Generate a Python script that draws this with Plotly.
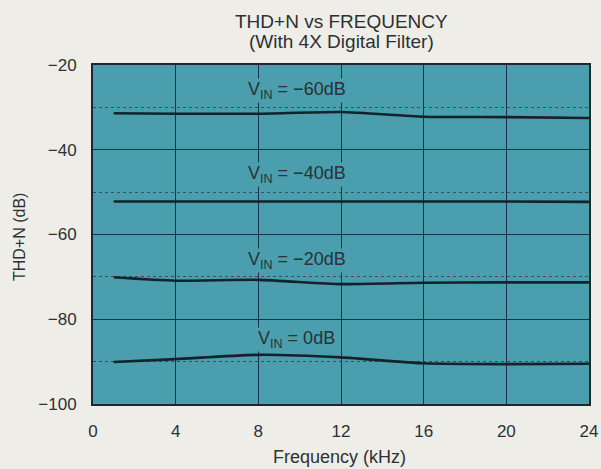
import plotly.graph_objects as go

freq = [1, 4, 8, 12, 16, 20, 24]
vin_m60 = [-31.4, -31.5, -31.5, -31.1, -32.2, -32.3, -32.5]
vin_m40 = [-52.2, -52.2, -52.2, -52.2, -52.2, -52.2, -52.3]
vin_m20 = [-70.1, -70.9, -70.7, -71.7, -71.4, -71.3, -71.3]
vin_0 = [-90.1, -89.4, -88.4, -89.0, -90.4, -90.6, -90.5]

series = [
    ("V<sub>IN</sub> = \u221260dB", vin_m60, -26.0),
    ("V<sub>IN</sub> = \u221240dB", vin_m40, -45.9),
    ("V<sub>IN</sub> = \u221220dB", vin_m20, -66.2),
    ("V<sub>IN</sub> = 0dB", vin_0, -84.7),
]

x_ticks = [0, 4, 8, 12, 16, 20, 24]
y_ticks = [-20, -40, -60, -80, -100]

teal = "#4a9eae"
grid = "#173540"
ink = "#2b3135"
paper = "#efede8"
font = "Liberation Sans, Arial, sans-serif"

fig = go.Figure()
for name, ys, ly in series:
    fig.add_trace(go.Scatter(x=freq, y=ys, mode="lines",
                             line=dict(color="#13222b", width=2.6, shape="spline", smoothing=0.6),
                             showlegend=False, hoverinfo="skip"))
    fig.add_annotation(x=9.85, y=ly, text=name, showarrow=False,
                       font=dict(family=font, size=18, color=ink),
                       bgcolor=teal, borderpad=0)

fig.add_annotation(xref="paper", yref="paper", x=0.5, y=(404 - 21.5) / 339, yanchor="middle",
                   text="THD+N vs FREQUENCY", showarrow=False,
                   font=dict(family=font, size=19, color=ink))
fig.add_annotation(xref="paper", yref="paper", x=0.5, y=(404 - 41.5) / 339, yanchor="middle",
                   text="(With 4X Digital Filter)", showarrow=False,
                   font=dict(family=font, size=19, color=ink))
fig.add_annotation(xref="paper", yref="paper", x=(19 - 93) / 496, y=(404 - 237) / 339,
                   xanchor="center", yanchor="middle",
                   text="THD+N (dB)", textangle=-90, showarrow=False,
                   font=dict(family=font, size=16, color=ink))
fig.add_annotation(xref="paper", yref="paper", x=(339 - 93) / 496, y=(404 - 457) / 339,
                   xanchor="center", yanchor="middle",
                   text="Frequency (kHz)", showarrow=False,
                   font=dict(family=font, size=18, color=ink))

fig.update_layout(
    width=601, height=469,
    margin=dict(l=93, r=12, t=65, b=65, pad=0),
    paper_bgcolor=paper, plot_bgcolor=teal,
    font=dict(family=font, size=17, color=ink),
)
fig.update_xaxes(range=[0, 24], tickvals=x_ticks, ticktext=[str(v) for v in x_ticks],
                 automargin=False,
                 showgrid=True, gridcolor=grid, gridwidth=1.3, zeroline=False,
                 showline=True, linecolor="#1c2a30", linewidth=2, mirror=True,
                 ticks="", ticklabelstandoff=11)
fig.update_yaxes(range=[-100, -20], tickvals=y_ticks,
                 ticktext=["\u2212" + str(-v) for v in y_ticks],
                 automargin=False,
                 showgrid=True, gridcolor=grid, gridwidth=1.3, zeroline=False,
                 showline=True, linecolor="#1c2a30", linewidth=2, mirror=True,
                 ticks="", ticklabelstandoff=11,
                 minor=dict(dtick=10, tick0=-100, showgrid=True, gridcolor="#2a5560",
                            gridwidth=0.8, griddash="dot"))

fig.write_html("out.html", config={"displayModeBar": False},
               post_script="document.body.style.margin='0';document.body.style.overflow='hidden';")
